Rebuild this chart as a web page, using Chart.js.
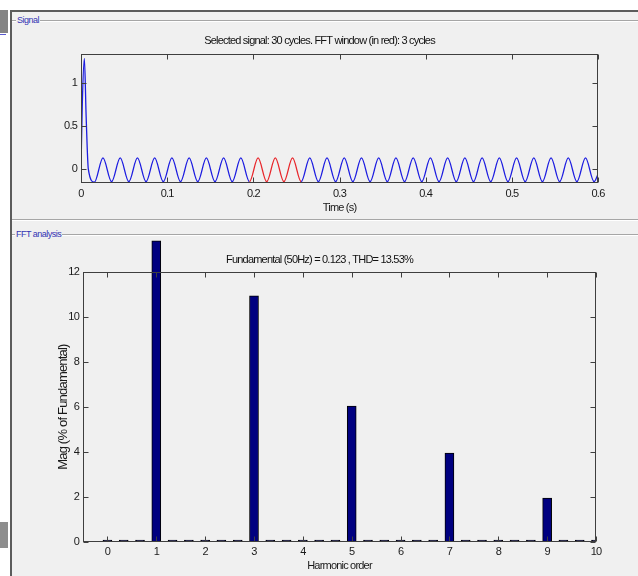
<!DOCTYPE html>
<html>
<head>
<meta charset="utf-8">
<script src="https://cdn.jsdelivr.net/npm/chart.js@4"></script>
<style>
    body { margin: 0; width: 638px; height: 576px; background: #fff; position: relative; overflow: hidden;
           font-family: "Liberation Sans", Arial, sans-serif; }
    #frame { position: absolute; left: 10px; top: 10px; width: 628px; height: 566px; background: #f0f0f0;
             border-top: 2px solid #5c5c5c; border-left: 2px solid #5c5c5c; box-sizing: border-box; }
    .rule { position: absolute; left: 12px; width: 626px; height: 0; border-top: 1px solid #a6a6a6; border-bottom: 1px solid #fff; }
    .box-label { position: absolute; font-size: 9px; line-height: 10px; color: #3434b4; background: #f0f0f0;
                 padding: 0 1px; letter-spacing: -0.5px; }
    .side { position: absolute; left: 0; width: 8px; background: #858585; }
    canvas { position: absolute; left: 0; }
</style>
</head>
<body>
<div class="side" style="top:10px;height:23px"></div>
<div style="position:absolute;left:0;top:34px;width:6px;height:1px;background:#5a5ad0"></div>
<div class="side" style="top:522px;height:26px;background:#8e8e8e"></div>
<div id="frame"></div>
<div class="rule" style="top:20px"></div>
<div class="box-label" style="left:16px;top:15px">Signal</div>
<div class="rule" style="top:219px"></div>
<div class="rule" style="top:234px"></div>
<div class="box-label" style="left:15px;top:229px">FFT analysis</div>

<canvas id="signalChart" width="638" height="220" style="top:0"></canvas>
<canvas id="fftChart" width="638" height="356" style="top:220px"></canvas>

<script>
// Signal panel: time (s) and amplitude
const sigTime = [
    0, 0.0015, 0.0039, 0.006, 0.0085,
    0.0155, 0.0255, 0.0355, 0.0455, 0.0555, 0.0655, 0.0755, 0.0855, 0.0955, 0.1055,
    0.1155, 0.1255, 0.1355, 0.1455, 0.1555, 0.1655, 0.1755, 0.1855, 0.1955, 0.2055,
    0.2155, 0.2255, 0.2355, 0.2455, 0.2555, 0.2655, 0.2755, 0.2855, 0.2955, 0.3055,
    0.3155, 0.3255, 0.3355, 0.3455, 0.3555, 0.3655, 0.3755, 0.3855, 0.3955, 0.4055,
    0.4155, 0.4255, 0.4355, 0.4455, 0.4555, 0.4655, 0.4755, 0.4855, 0.4955, 0.5055,
    0.5155, 0.5255, 0.5355, 0.5455, 0.5555, 0.5655, 0.5755, 0.5855, 0.5955,
    0.6
];
const sigValue = [
    0, 0.75, 1.28, 0.6, 0,
    -0.15, 0.13, -0.145, 0.13, -0.145, 0.13, -0.145, 0.13, -0.145, 0.13,
    -0.145, 0.13, -0.145, 0.13, -0.145, 0.13, -0.145, 0.13, -0.145, 0.13,
    -0.145, 0.13, -0.145, 0.13, -0.145, 0.13, -0.145, 0.13, -0.145, 0.13,
    -0.145, 0.13, -0.145, 0.13, -0.145, 0.13, -0.145, 0.13, -0.145, 0.13,
    -0.145, 0.13, -0.145, 0.13, -0.145, 0.13, -0.145, 0.13, -0.145, 0.13,
    -0.145, 0.13, -0.145, 0.13, -0.145, 0.13, -0.145, 0.13, -0.145,
    -0.06
];
const fftWindow = [0.1955, 0.2555];   // red part: 3 cycles
const sigXTicks = [0, 0.1, 0.2, 0.3, 0.4, 0.5, 0.6];
const sigYTicks = [0, 0.5, 1];

// FFT panel: harmonic order (1/3 resolution) and magnitude (% of fundamental)
const harmOrder = [
    0, 0.333, 0.667, 1, 1.333, 1.667, 2, 2.333, 2.667, 3,
    3.333, 3.667, 4, 4.333, 4.667, 5, 5.333, 5.667, 6, 6.333,
    6.667, 7, 7.333, 7.667, 8, 8.333, 8.667, 9, 9.333, 9.667, 10
];
const harmMag = [
    0.09, 0.09, 0.09, 13.4, 0.09, 0.09, 0.09, 0.09, 0.09, 10.95,
    0.09, 0.09, 0.09, 0.09, 0.09, 6.05, 0.09, 0.09, 0.09, 0.09,
    0.09, 3.95, 0.09, 0.09, 0.09, 0.09, 0.09, 1.95, 0.09, 0.09, 0.09
];
const harmXTicks = [0, 1, 2, 3, 4, 5, 6, 7, 8, 9, 10];
const harmYTicks = [0, 2, 4, 6, 8, 10, 12];

const FONT = '"Liberation Sans", Arial, sans-serif';
Chart.defaults.font.family = FONT;
Chart.defaults.font.size = 11;
Chart.defaults.color = '#1a1a1a';

// the screenshot text is squeezed sideways, tighten the canvas text a bit
const tightText = {
    id: 'tightText',
    beforeUpdate(chart) { chart.ctx.letterSpacing = '-0.8px'; },
    beforeDraw(chart) { chart.ctx.letterSpacing = '-0.8px'; }
};

// matlab-like axes: closed box with inward ticks on all four sides
const axesBox = {
    id: 'axesBox',
    afterDatasetsDraw(chart) {
        const { ctx, chartArea: a, scales } = chart;
        const L = Math.round(a.left) + 0.5, R = Math.round(a.right) - 0.5;
        const T = Math.round(a.top) + 0.5, B = Math.round(a.bottom) - 0.5;
        ctx.save();
        ctx.strokeStyle = '#3f3f3f';
        ctx.lineWidth = 1;
        ctx.strokeRect(L, T, R - L, B - T);
        ctx.beginPath();
        scales.x.ticks.forEach(t => {
            const x = Math.round(scales.x.getPixelForValue(t.value)) + 0.5;
            ctx.moveTo(x, B); ctx.lineTo(x, B - 5);
            ctx.moveTo(x, T); ctx.lineTo(x, T + 5);
        });
        scales.y.ticks.forEach(t => {
            const y = Math.round(scales.y.getPixelForValue(t.value)) + 0.5;
            ctx.moveTo(L, y); ctx.lineTo(L + 5, y);
            ctx.moveTo(R, y); ctx.lineTo(R - 5, y);
        });
        ctx.stroke();
        ctx.restore();
    }
};

function fixedTicks(list) {
    return scale => { scale.ticks = list.map(v => ({ value: v })); };
}

new Chart(document.getElementById('signalChart'), {
    type: 'line',
    data: {
        datasets: [{
            data: sigTime.map((t, i) => ({ x: t, y: sigValue[i] })),
            borderColor: '#1c1ce0',
            borderWidth: 1.3,
            pointRadius: 0,
            cubicInterpolationMode: 'monotone',
            segment: {
                borderColor: c => (c.p0.parsed.x >= fftWindow[0] - 1e-6 && c.p1.parsed.x <= fftWindow[1] + 1e-6) ? '#e8262b' : undefined
            }
        }]
    },
    options: {
        responsive: false,
        animation: false,
        layout: { padding: { left: 41, right: 40, top: 34, bottom: 5 } },
        plugins: {
            legend: { display: false },
            tooltip: { enabled: false },
            title: {
                display: true,
                text: 'Selected signal: 30 cycles. FFT window (in red): 3 cycles',
                font: { size: 11, weight: 'normal' },
                color: '#111',
                padding: { top: 0, bottom: 7 }
            }
        },
        scales: {
            x: {
                type: 'linear', min: 0, max: 0.6,
                afterBuildTicks: fixedTicks(sigXTicks),
                afterFit: s => { s.height = 32; },
                grid: { display: false, drawTicks: false },
                border: { display: false },
                ticks: { padding: 4, maxRotation: 0, callback: v => String(v) },
                title: { display: true, text: 'Time (s)', font: { size: 11 }, padding: { top: 0, bottom: 0 } }
            },
            y: {
                type: 'linear', min: -0.16, max: 1.33,
                afterBuildTicks: fixedTicks(sigYTicks),
                afterFit: s => { s.width = 40; },
                grid: { display: false, drawTicks: false },
                border: { display: false },
                ticks: { padding: 4, callback: v => String(v) }
            }
        }
    },
    plugins: [tightText, axesBox]
});

new Chart(document.getElementById('fftChart'), {
    type: 'bar',
    data: {
        datasets: [{
            data: harmOrder.map((h, i) => ({ x: h, y: harmMag[i] })),
            backgroundColor: '#000080',
            borderColor: '#000000',
            borderWidth: 1,
            borderSkipped: false,
            barThickness: 9,
            clip: { left: 0, right: 0, bottom: 0, top: false }
        }]
    },
    options: {
        responsive: false,
        animation: false,
        layout: { padding: { left: 43, right: 42, top: 33, bottom: 0 } },
        plugins: {
            legend: { display: false },
            tooltip: { enabled: false },
            title: {
                display: true,
                text: 'Fundamental (50Hz) = 0.123 , THD= 13.53%',
                font: { size: 11, weight: 'normal' },
                color: '#111',
                padding: { top: 0, bottom: 6 }
            }
        },
        scales: {
            x: {
                type: 'linear', min: -0.5, max: 10, offset: false,
                afterBuildTicks: fixedTicks(harmXTicks),
                afterFit: s => { s.height = 34; },
                grid: { display: false, drawTicks: false },
                border: { display: false },
                ticks: { padding: 3, maxRotation: 0 },
                title: { display: true, text: 'Harmonic order', font: { size: 11 }, padding: { top: 0, bottom: 3 } }
            },
            y: {
                type: 'linear', min: 0, max: 12,
                afterBuildTicks: fixedTicks(harmYTicks),
                afterFit: s => { s.width = 40; },
                grid: { display: false, drawTicks: false },
                border: { display: false },
                ticks: { padding: 4 },
                title: { display: true, text: 'Mag (% of Fundamental)', font: { size: 13 }, padding: { top: 13, bottom: 0 } }
            }
        }
    },
    plugins: [tightText, axesBox]
});
</script>
</body>
</html>
